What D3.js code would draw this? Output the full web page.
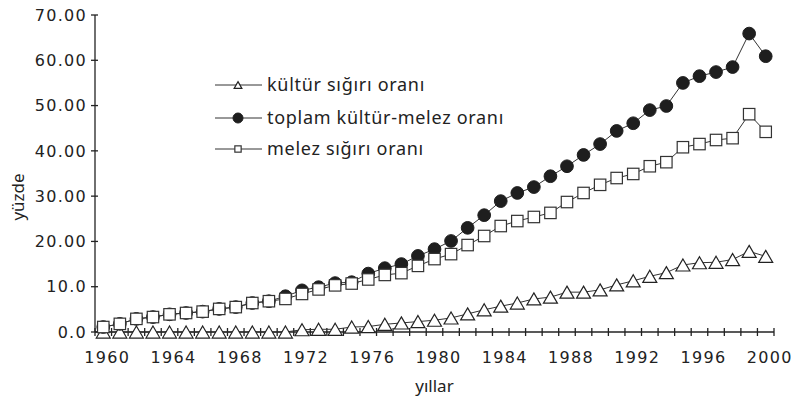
<!DOCTYPE html>
<meta charset="utf-8">
<style>
body { margin: 0; background: #fff; }
.tick-label { font-family: "DejaVu Sans", sans-serif; font-size: 16px; letter-spacing: 1.3px; fill: #222; }
.title, .legend text { font-family: "Noto Sans", sans-serif; font-size: 17px; fill: #222; }
.legend text { font-size: 18px; letter-spacing: 0.7px; }
.axis line, .axis path { stroke: #222; stroke-width: 1.3; }
.series { fill: none; stroke: #333; stroke-width: 1; }
</style>
<script src="https://d3js.org/d3.v7.min.js"></script>
<svg id="chart" width="795" height="400"></svg>
<script>

var years = [1960, 1961, 1962, 1963, 1964, 1965, 1966, 1967, 1968, 1969,
             1970, 1971, 1972, 1973, 1974, 1975, 1976, 1977, 1978, 1979,
             1980, 1981, 1982, 1983, 1984, 1985, 1986, 1987, 1988, 1989,
             1990, 1991, 1992, 1993, 1994, 1995, 1996, 1997, 1998, 1999, 2000];

// kültür sığırı oranı
var kultur = [0, 0, 0, 0, 0, 0, 0, 0, 0, 0,
              0, 0, 0.5, 0.6, 0.6, 1.1, 1.2, 1.7, 2.0, 2.3,
              2.6, 3.1, 4.0, 4.9, 5.7, 6.4, 7.3, 7.7, 8.8, 8.8,
              9.3, 10.4, 11.3, 12.3, 13.1, 14.8, 15.3, 15.4, 16.0, 17.8, 16.7];

// toplam kültür-melez oranı
var toplam = [1.1, 1.8, 2.9, 3.3, 3.9, 4.2, 4.5, 5.1, 5.5, 6.4,
              6.8, 7.9, 9.2, 9.9, 10.8, 11.0, 12.9, 14.1, 15.0, 16.8,
              18.3, 20.1, 23.0, 25.8, 28.9, 30.7, 32.0, 34.4, 36.6, 39.1,
              41.5, 44.4, 46.1, 49.0, 49.9, 55.0, 56.5, 57.4, 58.5, 65.9, 60.9];

// melez sığırı oranı
var melez = [1.1, 1.8, 2.9, 3.3, 3.9, 4.2, 4.5, 5.1, 5.5, 6.4,
             6.8, 7.3, 8.4, 9.4, 10.3, 10.7, 11.6, 12.6, 13.0, 14.6,
             16.1, 17.2, 19.2, 21.2, 23.4, 24.5, 25.4, 26.3, 28.7, 30.7,
             32.5, 34.0, 34.9, 36.6, 37.5, 40.8, 41.5, 42.4, 42.8, 48.1, 44.2];

var yTicks = [0, 10, 20, 30, 40, 50, 60, 70];
var yTickLabels = ["0.0", "10.0", "20.00", "30.00", "40.00", "50.00", "60.00", "70.00"];
var xLabelYears = [1960, 1964, 1968, 1972, 1976, 1980, 1984, 1988, 1992, 1996, 2000];

var seriesNames = ["kültür sığırı oranı", "toplam kültür-melez oranı", "melez sığırı oranı"];
var seriesData = [kultur, toplam, melez];
var seriesMarks = ["triangle", "circle", "square"];

var svg = d3.select("#chart");

var x = d3.scaleBand().domain(years).range([95, 774]);
var y = d3.scaleLinear().domain([0, 70]).range([332, 15]);

// y axis
var gy = svg.append("g").attr("class", "axis");
gy.append("line").attr("x1", x.range()[0]).attr("x2", x.range()[0])
  .attr("y1", y(0)).attr("y2", y(70));
gy.selectAll("line.tk").data(yTicks).enter().append("line").attr("class", "tk")
  .attr("x1", x.range()[0] - 4).attr("x2", x.range()[0] + 3)
  .attr("y1", function(d) { return y(d); }).attr("y2", function(d) { return y(d); });
gy.selectAll("text").data(yTicks).enter().append("text")
  .attr("class", "tick-label")
  .attr("x", 87).attr("y", function(d) { return y(d); })
  .attr("dy", "0.36em").attr("text-anchor", "end")
  .text(function(d, i) { return yTickLabels[i]; });

// x axis, ticks between categories
var gx = svg.append("g").attr("class", "axis");
gx.append("line").attr("x1", x.range()[0]).attr("x2", x.range()[1])
  .attr("y1", y(0)).attr("y2", y(0));
var bounds = years.map(function(d) { return x(d); }).concat([x.range()[1]]);
gx.selectAll("line.tk").data(bounds).enter().append("line").attr("class", "tk")
  .attr("x1", function(d) { return d; }).attr("x2", function(d) { return d; })
  .attr("y1", y(0) - 4).attr("y2", y(0) + 4);
gx.selectAll("text").data(xLabelYears).enter().append("text")
  .attr("class", "tick-label")
  .attr("x", function(d) { return x(d) + x.bandwidth() / 2 + 4; })
  .attr("y", 357).attr("dy", "0.36em").attr("text-anchor", "middle")
  .text(function(d) { return d; });

// axis titles
svg.append("text").attr("class", "title")
  .attr("x", (x.range()[0] + x.range()[1]) / 2).attr("y", 386)
  .attr("text-anchor", "middle").attr("dy", "0.35em").text("yıllar");
svg.append("text").attr("class", "title")
  .attr("transform", "translate(18,197) rotate(-90)")
  .attr("text-anchor", "middle").attr("dy", "0.35em").text("yüzde");

function marker(sel, type, size) {
  if (type === "circle") {
    sel.append("circle").attr("r", size / 2).attr("fill", "#1e1e1e").attr("stroke", "#1e1e1e");
  } else if (type === "square") {
    var s = size * 0.9;
    sel.append("rect").attr("x", -s / 2).attr("y", -s / 2).attr("width", s).attr("height", s)
      .attr("fill", "#fff").attr("stroke", "#333").attr("stroke-width", 1.2);
  } else {
    var w = size * 1.1, h = size * 0.95;
    sel.append("path").attr("d", "M0," + (-h / 2) + "L" + (w / 2) + "," + (h / 2) + "L" + (-w / 2) + "," + (h / 2) + "Z")
      .attr("fill", "#fff").attr("stroke", "#222").attr("stroke-width", 1.2);
  }
}

var line = d3.line()
  .x(function(d, i) { return x(years[i]) + x.bandwidth() / 2; })
  .y(function(d) { return y(d); });

seriesData.forEach(function(vals, k) {
  var g = svg.append("g");
  g.append("path").datum(vals).attr("class", "series").attr("d", line);
  g.selectAll("g.pt").data(vals).enter().append("g").attr("class", "pt")
    .attr("transform", function(d, i) {
      return "translate(" + (x(years[i]) + x.bandwidth() / 2) + "," + y(d) + ")";
    })
    .each(function() { marker(d3.select(this), seriesMarks[k], 12.7); });
});

// legend
var legendY = [85, 118, 149];
var lg = svg.append("g").attr("class", "legend");
seriesNames.forEach(function(name, k) {
  var row = lg.append("g").attr("transform", "translate(0," + legendY[k] + ")");
  row.append("line").attr("x1", 215).attr("x2", 262).attr("y1", 0).attr("y2", 0)
    .attr("stroke", "#333").attr("stroke-width", 1);
  var m = row.append("g").attr("transform", "translate(238,0)");
  marker(m, seriesMarks[k], seriesMarks[k] === "circle" ? 10 : 7);
  row.append("text").attr("x", 267).attr("y", 0).attr("dy", "0.35em").text(name);
});
</script>
